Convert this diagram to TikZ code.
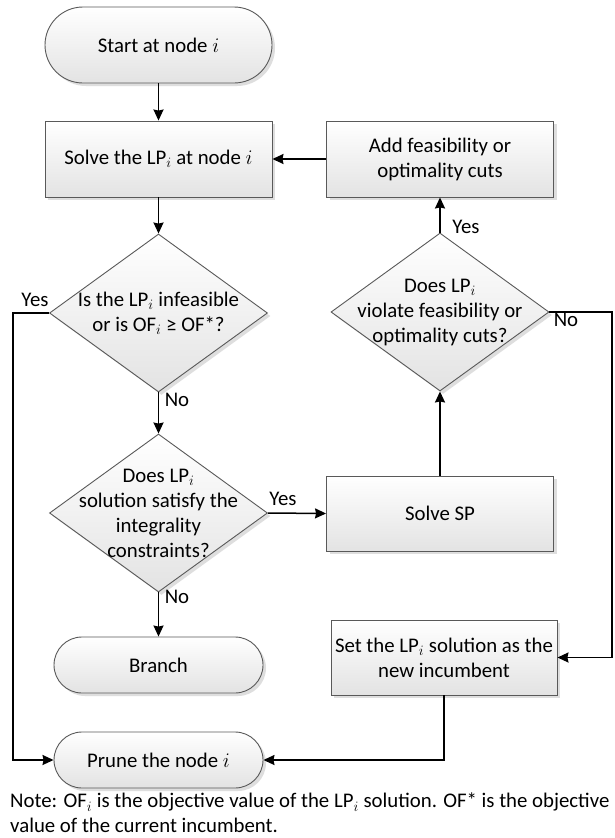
\documentclass[tikz,border=0pt]{standalone}
\usepackage{fontspec}
\setmainfont{Carlito}
\usetikzlibrary{shapes.geometric,arrows.meta,shadows}
\begin{document}
\begin{tikzpicture}[x=1pt,y=-1pt,
  font=\fontsize{20.8}{25}\selectfont,
  grad/.style={top color=white,bottom color=black!11},
  softshadow/.style={drop shadow={shadow xshift=3pt,shadow yshift=-3pt,fill=black!25,opacity=0.5}},
  outline/.style={draw=black!65,line width=0.9pt},
  procbox/.style={outline,rectangle,grad,softshadow,minimum width=227pt,minimum height=76pt,align=center,inner sep=2pt},
  termbox/.style={outline,rectangle,grad,softshadow,minimum width=209pt,minimum height=56pt,rounded corners=28pt,inner sep=2pt},
  decbox/.style={outline,diamond,grad,softshadow,minimum width=218pt,minimum height=158pt,inner sep=0pt},
  conn/.style={line width=1.5pt,-{Stealth[length=11pt,width=10pt,inset=1pt]}},
  lbl/.style={inner sep=0pt}
]
\useasboundingbox (0,0) rectangle (614,838);
\fill[white] (0,0) rectangle (614,838);

% left column
\node[termbox,minimum width=227pt,minimum height=76pt,rounded corners=38pt] (start) at (158.5,45) {Start at node $i$};
\node[procbox] (solve) at (158.5,159) {Solve the LP$_i$ at node $i$};
\node[decbox,label={[align=center,lbl]center:Is the LP$_i$ infeasible\\or is OF$_i$ ≥ OF*?}] (d1) at (158.5,313) {};
\node[decbox,label={[align=center,lbl]center:Does LP$_i$\\solution satisfy the\\integrality\\constraints?}] (d2) at (158.5,513) {};
\node[termbox] (branch) at (158.5,665) {Branch};
\node[termbox] (prune) at (158.5,760) {Prune the node $i$};

% right column
\node[procbox,minimum width=227pt] (add) at (440,159) {Add feasibility or\\optimality cuts};
\node[decbox,label={[align=center,lbl]center:Does LP$_i$\\violate feasibility or\\optimality cuts?}] (d3) at (440,312) {};
\node[procbox,minimum height=75pt] (sp) at (440,513.5) {Solve SP};
\node[procbox,minimum width=226pt,minimum height=75pt] (set) at (444,657.5) {Set the LP$_i$ solution as the\\new incumbent};

% routing guides
\coordinate (lftx) at (13,0);
\coordinate (rgtx) at (612,0);

% connectors
\draw[conn] (start) -- (solve);
\draw[conn] (solve) -- (d1);
\draw[conn] (d1.south) -- (d2.north);
\draw[conn] (d2.south) -- (branch.north);
\draw[conn] (d2.east) -- (sp.west);
\draw[conn] (sp.north) -- (d3.south);
\draw[conn] (d3.north) -- (add.south);
\draw[conn] (add.west) -- (solve.east);
\draw[conn] (d1.west) -- (d1.west -| lftx) |- (prune.west);
\draw[conn] (d3.east) -- (d3.east -| rgtx) |- (set.east);
\draw[conn] (set.south) |- (prune.east);

% branch labels
\node[lbl] (y1) at (35,300) {Yes};
\node[lbl] (n1) at (177,400) {No};
\node[lbl] (y2) at (283,499) {Yes};
\node[lbl] (n2) at (177,597) {No};
\node[lbl] (y3) at (466,227) {Yes};
\node[lbl] (n3) at (566,320) {No};

% footnote
\node[lbl,anchor=north west,align=left] (note) at (10,793) {Note: OF$_i$ is the objective value of the LP$_i$ solution. OF* is the objective\\value of the current incumbent.};
\end{tikzpicture}
\end{document}
